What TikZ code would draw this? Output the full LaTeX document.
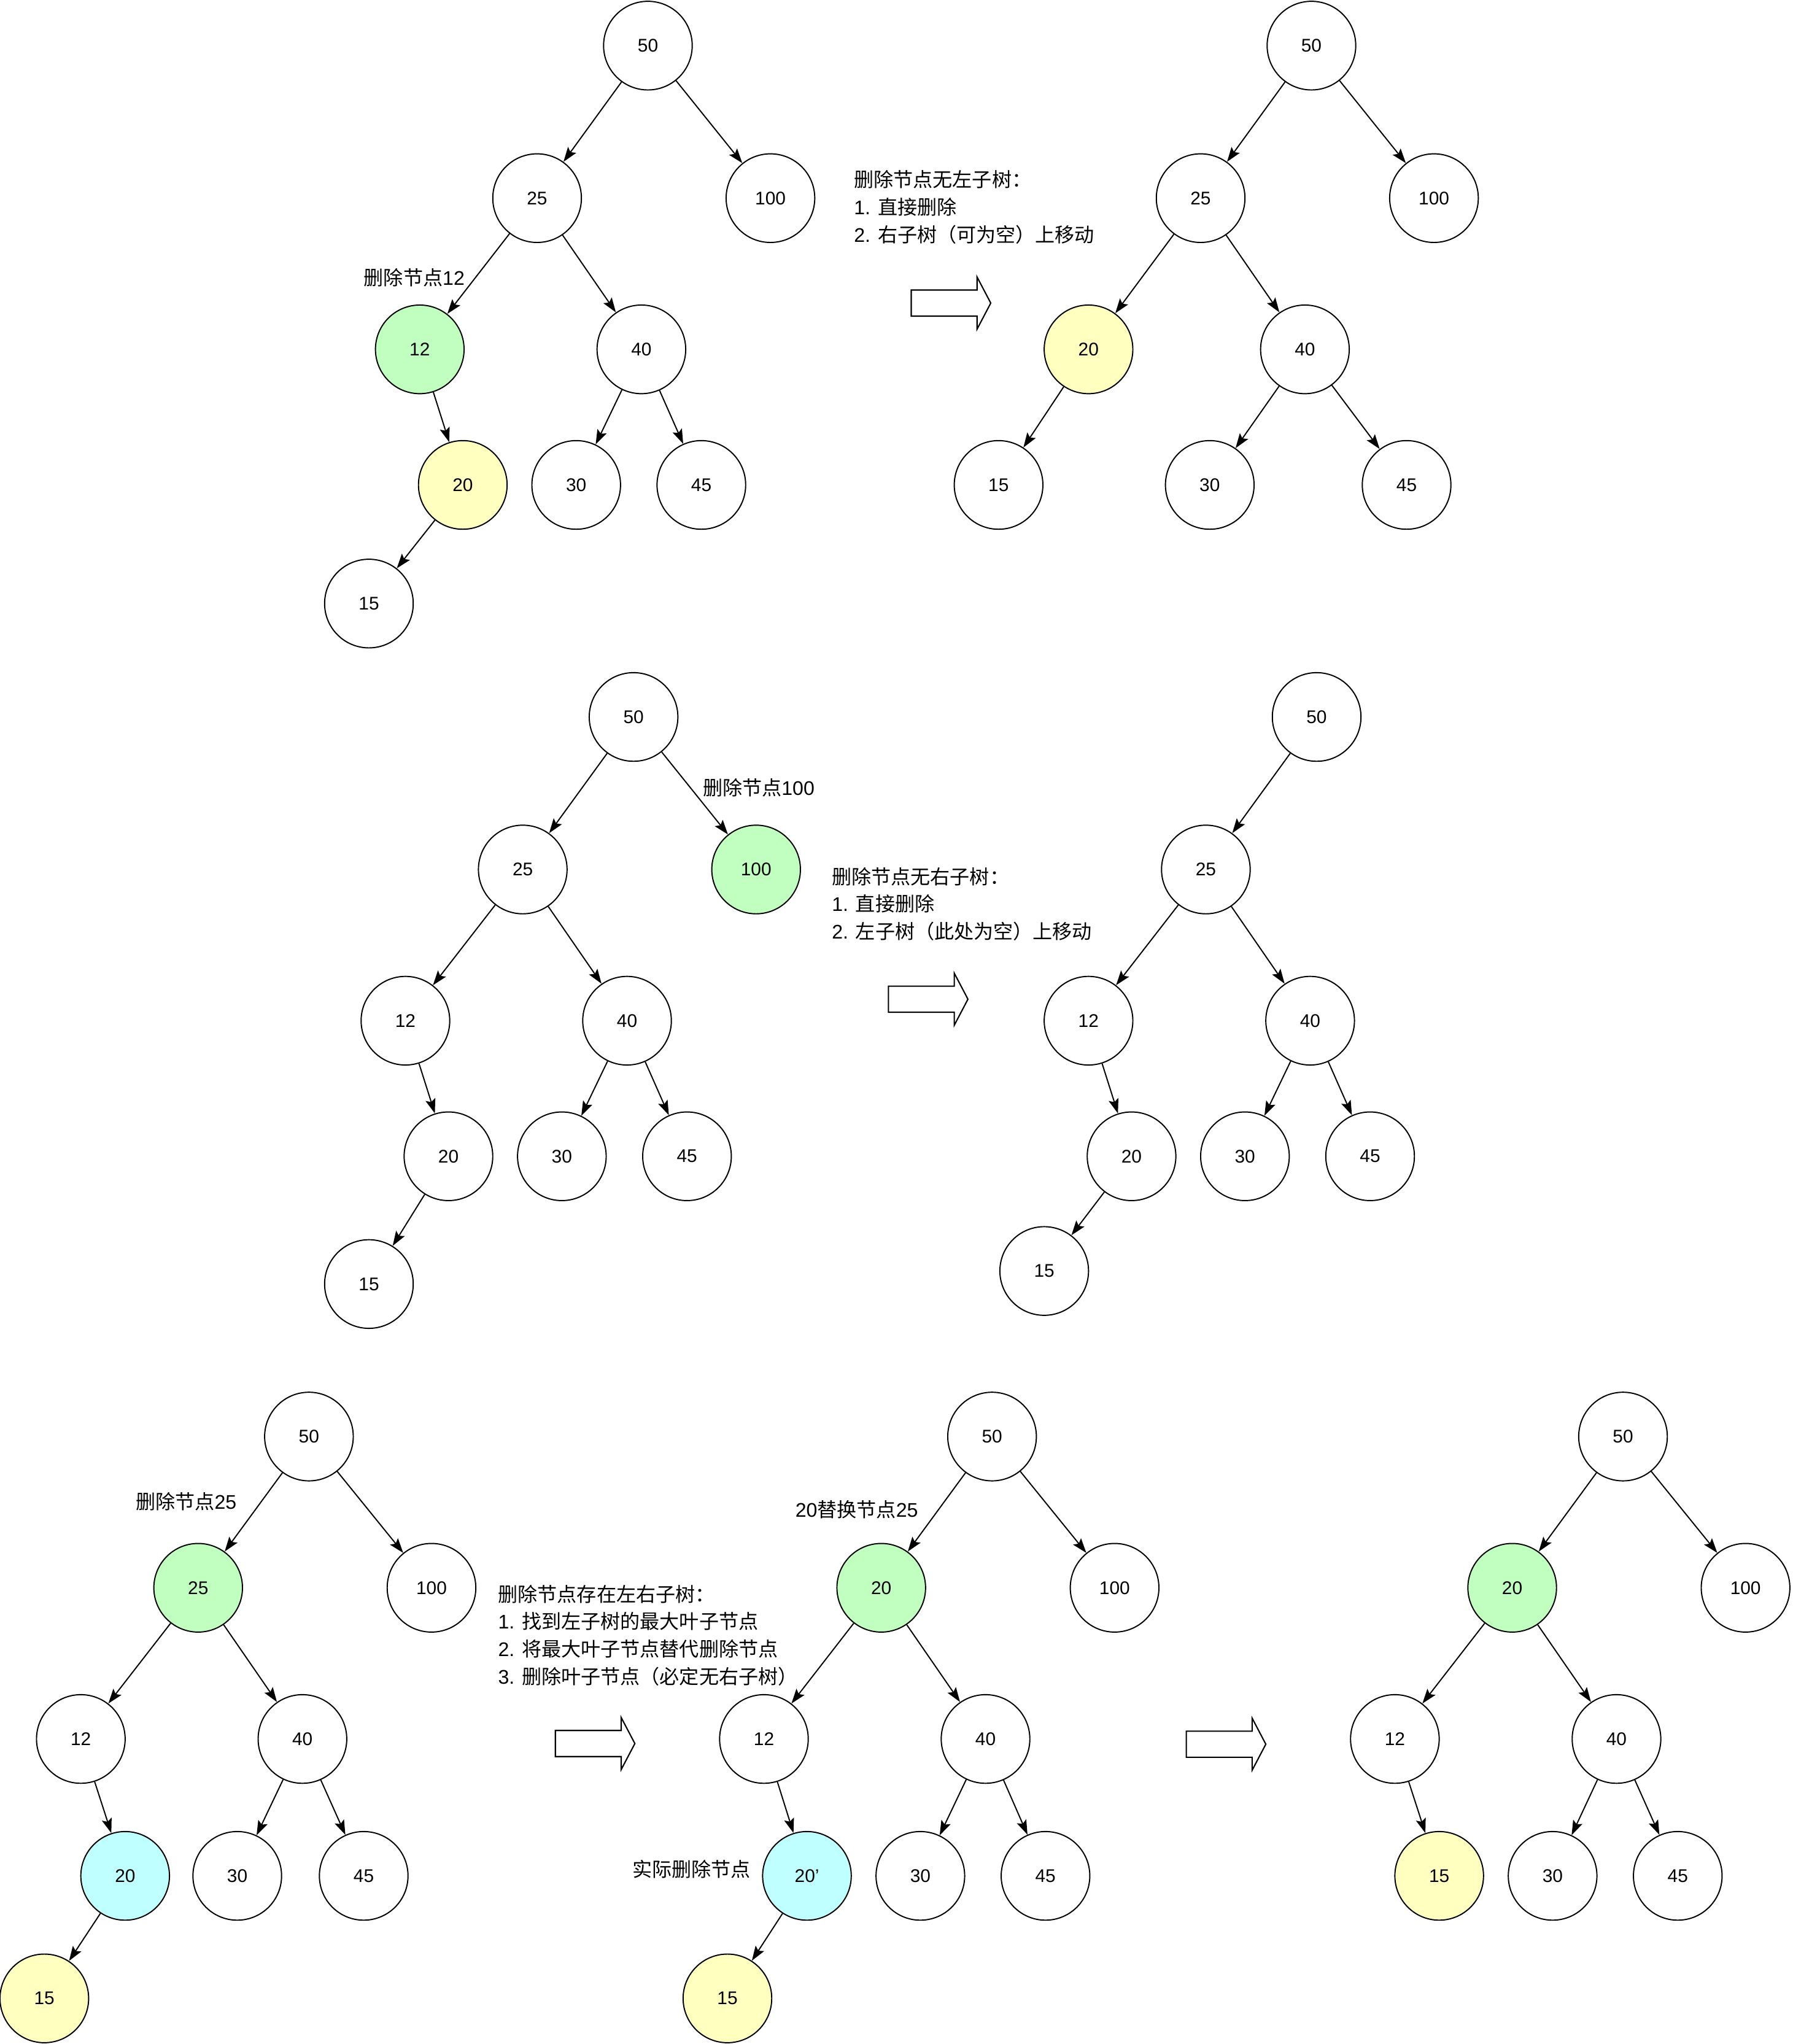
\documentclass[tikz,border=0pt]{standalone}
\usepackage{fontspec}
\setmainfont{Liberation Sans}
\newfontfamily\cjk{Noto Sans CJK SC}
\usetikzlibrary{arrows.meta}
\definecolor{delgreen}{RGB}{192,255,192}
\definecolor{leafyellow}{RGB}{255,255,192}
\definecolor{realcyan}{RGB}{192,255,255}

\tikzset{
    tnode/.style={circle, draw, line width=1.3pt, minimum size=3.4cm, inner sep=0pt,
        fill=white, font=\fontsize{20}{24}\selectfont},
    tedge/.style={-{Stealth[length=16pt, width=11pt, inset=3pt]}, line width=1.3pt},
    note/.style={anchor=west, align=left, inner sep=0pt, font=\fontsize{21.5}{30}\selectfont},
    bigarrow/.style={draw, line width=1.4pt, fill=white}
}
% hollow block arrow between two trees
\newcommand{\fatarrow}[2]{
    \draw[bigarrow] (#1,#2) ++(0,-10) -- ++(50.5,0) -- ++(0,-10) -- ++(10.5,20)
        -- ++(-10.5,20) -- ++(0,-10) -- ++(-50.5,0) -- cycle;
}

\begin{document}
\begin{tikzpicture}[x=0.05cm, y=-0.05cm]
        \useasboundingbox (0,0) rectangle (1375,1568);
        % tree a: delete 12
        \node[tnode] (a50) at (497,35) {50};
        \node[tnode] (a25) at (412,152) {25};
        \node[tnode] (a100) at (591,152) {100};
        \node[tnode, fill=delgreen] (a12) at (322,268) {12};
        \node[tnode] (a40) at (492,268) {40};
        \node[tnode, fill=leafyellow] (a20) at (355,372) {20};
        \node[tnode] (a30) at (442,372) {30};
        \node[tnode] (a45) at (538,372) {45};
        \node[tnode] (a15) at (283,463) {15};
        \foreach \u/\v in {a50/a25, a50/a100, a25/a12, a25/a40, a12/a20, a40/a30, a40/a45, a20/a15}
        {
            \draw[tedge] (\u) -- (\v);
        }
        \node[note] (alabel) at (279,213) {{\cjk 删除节点}12};
        \node[note] (anote) at (655,159) {{\cjk 删除节点无左子树：}\\1. {\cjk 直接删除}\\2. {\cjk 右子树（可为空）上移动}};
        \fatarrow{699}{232.5}
        % tree b: after deleting 12
        \node[tnode] (b50) at (1006,35) {50};
        \node[tnode] (b25) at (921,152) {25};
        \node[tnode] (b100) at (1100,152) {100};
        \node[tnode, fill=leafyellow] (b20) at (835,268) {20};
        \node[tnode] (b40) at (1001,268) {40};
        \node[tnode] (b15) at (766,372) {15};
        \node[tnode] (b30) at (928,372) {30};
        \node[tnode] (b45) at (1079,372) {45};
        \foreach \u/\v in {b50/b25, b50/b100, b25/b20, b25/b40, b20/b15, b40/b30, b40/b45}
        {
            \draw[tedge] (\u) -- (\v);
        }
        % tree c: delete 100
        \node[tnode] (c50) at (486,550) {50};
        \node[tnode] (c25) at (401,667) {25};
        \node[tnode, fill=delgreen] (c100) at (580,667) {100};
        \node[tnode] (c12) at (311,783) {12};
        \node[tnode] (c40) at (481,783) {40};
        \node[tnode] (c20) at (344,887) {20};
        \node[tnode] (c30) at (431,887) {30};
        \node[tnode] (c45) at (527,887) {45};
        \node[tnode] (c15) at (283,985) {15};
        \foreach \u/\v in {c50/c25, c50/c100, c25/c12, c25/c40, c12/c20, c40/c30, c40/c45, c20/c15}
        {
            \draw[tedge] (\u) -- (\v);
        }
        \node[note] (clabel) at (539,604) {{\cjk 删除节点}100};
        \node[note] (cnote) at (638,693.5) {{\cjk 删除节点无右子树：}\\1. {\cjk 直接删除}\\2. {\cjk 左子树（此处为空）上移动}};
        \fatarrow{681.5}{766.5}
        % tree d: after deleting 100
        \node[tnode] (d50) at (1010,550) {50};
        \node[tnode] (d25) at (925,667) {25};
        \node[tnode] (d12) at (835,783) {12};
        \node[tnode] (d40) at (1005,783) {40};
        \node[tnode] (d20) at (868,887) {20};
        \node[tnode] (d30) at (955,887) {30};
        \node[tnode] (d45) at (1051,887) {45};
        \node[tnode] (d15) at (801,975) {15};
        \foreach \u/\v in {d50/d25, d25/d12, d25/d40, d12/d20, d40/d30, d40/d45, d20/d15}
        {
            \draw[tedge] (\u) -- (\v);
        }
        % tree e: delete 25
        \node[tnode] (e50) at (237,1102) {50};
        \node[tnode, fill=delgreen] (e25) at (152,1218) {25};
        \node[tnode] (e100) at (331,1218) {100};
        \node[tnode] (e12) at (62,1334) {12};
        \node[tnode] (e40) at (232,1334) {40};
        \node[tnode, fill=realcyan] (e20) at (96,1439) {20};
        \node[tnode] (e30) at (182,1439) {30};
        \node[tnode] (e45) at (279,1439) {45};
        \node[tnode, fill=leafyellow] (e15) at (34,1533) {15};
        \foreach \u/\v in {e50/e25, e50/e100, e25/e12, e25/e40, e12/e20, e40/e30, e40/e45, e20/e15}
        {
            \draw[tedge] (\u) -- (\v);
        }
        \node[note] (elabel) at (104,1152) {{\cjk 删除节点}25};
        \node[note] (enote) at (382,1254.5) {{\cjk 删除节点存在左右子树：}\\1. {\cjk 找到左子树的最大叶子节点}\\2. {\cjk 将最大叶子节点替代删除节点}\\3. {\cjk 删除叶子节点（必定无右子树）}};
        \fatarrow{426}{1337.5}
        % tree f: 20 replaces 25
        \node[tnode] (f50) at (761,1102) {50};
        \node[tnode, fill=delgreen] (f20) at (676,1218) {20};
        \node[tnode] (f100) at (855,1218) {100};
        \node[tnode] (f12) at (586,1334) {12};
        \node[tnode] (f40) at (756,1334) {40};
        \node[tnode, fill=realcyan] (f20p) at (619,1439) {20’};
        \node[tnode] (f30) at (706,1439) {30};
        \node[tnode] (f45) at (802,1439) {45};
        \node[tnode, fill=leafyellow] (f15) at (558,1533) {15};
        \foreach \u/\v in {f50/f20, f50/f100, f20/f12, f20/f40, f12/f20p, f40/f30, f40/f45, f20p/f15}
        {
            \draw[tedge] (\u) -- (\v);
        }
        \node[note] (flabel) at (610,1158) {20{\cjk 替换节点}25};
        \node[note] (freal) at (485,1434) {\cjk 实际删除节点};
        \fatarrow{910}{1338}
        % tree g: result
        \node[tnode] (g50) at (1245,1102) {50};
        \node[tnode, fill=delgreen] (g20) at (1160,1218) {20};
        \node[tnode] (g100) at (1339,1218) {100};
        \node[tnode] (g12) at (1070,1334) {12};
        \node[tnode] (g40) at (1240,1334) {40};
        \node[tnode, fill=leafyellow] (g15) at (1104,1439) {15};
        \node[tnode] (g30) at (1191,1439) {30};
        \node[tnode] (g45) at (1287,1439) {45};
        \foreach \u/\v in {g50/g20, g50/g100, g20/g12, g20/g40, g12/g15, g40/g30, g40/g45}
        {
            \draw[tedge] (\u) -- (\v);
        }
\end{tikzpicture}
\end{document}
